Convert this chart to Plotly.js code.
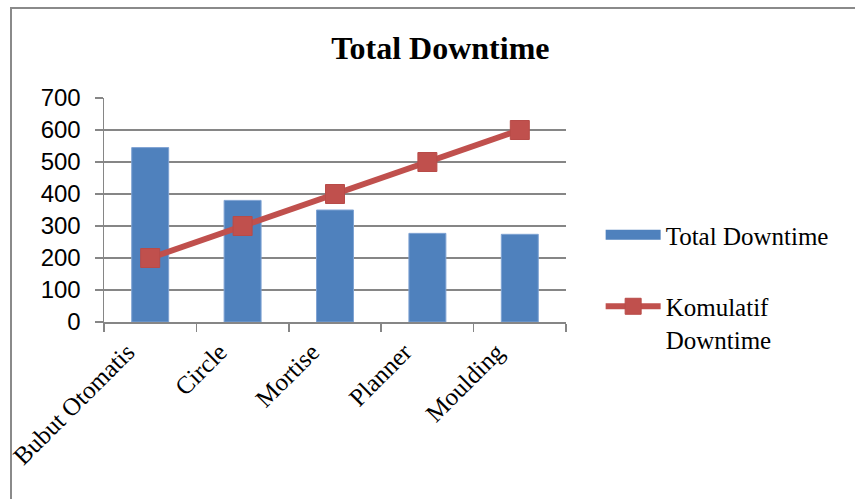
<!DOCTYPE html>
<html>
<head>
<meta charset="utf-8">
<script src="https://cdn.plot.ly/plotly-3.0.1.min.js"></script>
<style>
html,body{margin:0;padding:0;background:#fff;}
#chart{width:855px;height:499px;position:relative;}
#frame{position:absolute;left:10px;top:7px;width:900px;height:600px;border-left:2px solid #8a8a8a;border-top:2px solid #8a8a8a;pointer-events:none;}
</style>
</head>
<body>
<div id="chart"></div>
<div id="frame"></div>
<script>
var categories = ["Bubut Otomatis", "Circle", "Mortise", "Planner", "Moulding"];
var totalDowntime = [545, 380, 350, 277, 274];
var komulatifDowntime = [200, 300, 400, 500, 600];
var seriesNames = ["Total Downtime", "Komulatif<br>Downtime"];
var yTicks = [0, 100, 200, 300, 400, 500, 600, 700];

var barColor = '#4F81BD';
var lineColor = '#C0504D';

var traces = [
  {
    type: 'bar', x: categories, y: totalDowntime, name: seriesNames[0],
    marker: {color: barColor, line: {color: '#7FA3D3', width: 1}},
    showlegend: false, legendgroup: 'a'
  },
  {
    // legend key for the bar series (wide rectangle like the original)
    type: 'scatter', mode: 'lines', x: [null], y: [null], name: seriesNames[0],
    line: {color: barColor, width: 11}, legendgroup: 'a', hoverinfo: 'skip'
  },
  {
    type: 'scatter', mode: 'lines+markers', x: categories, y: komulatifDowntime, name: seriesNames[1],
    line: {color: lineColor, width: 6},
    marker: {symbol: 'square', size: 19, color: lineColor, line: {color: '#B84B48', width: 1}},
    legendgroup: 'b'
  }
];

var layout = {
  width: 855, height: 499,
  margin: {l: 104, r: 289, t: 98, b: 177},
  paper_bgcolor: '#fff', plot_bgcolor: '#fff',
  title: {text: '<b>Total Downtime</b>', font: {family: 'Liberation Serif', size: 32, color: '#000'}, x: 0.515, xanchor: 'center', y: 0.905, yanchor: 'middle'},
  bargap: 0.6,
  showlegend: true,
  legend: {x: 1.075, y: 0.491, xanchor: 'left', yanchor: 'top', font: {family: 'Liberation Serif', size: 25, color: '#000'}, tracegroupgap: 36, valign: 'top', itemwidth: 55, bgcolor: 'rgba(0,0,0,0)'},
  xaxis: {
    type: 'category', tickson: 'boundaries', ticks: 'outside', ticklen: 8, tickcolor: '#868686', tickwidth: 1.5,
    showline: true, linecolor: '#868686', linewidth: 1.5, showgrid: false, tickangle: -45,
    ticklabelshift: -23, ticklabelstandoff: 4,
    tickfont: {family: 'Liberation Serif', size: 25, color: '#000'}
  },
  yaxis: {
    range: [0, 700], tickvals: yTicks, ticktext: yTicks.map(String), ticks: 'outside', ticklen: 8,
    tickcolor: '#868686', tickwidth: 1.5, showline: true, linecolor: '#868686', linewidth: 1.5,
    showgrid: true, gridcolor: '#868686', gridwidth: 1.5, zeroline: false, ticklabelstandoff: 9,
    tickfont: {family: 'Liberation Sans', size: 24, color: '#000'}
  }
};

Plotly.newPlot('chart', traces, layout, {staticPlot: true, displayModeBar: false});
</script>
</body>
</html>
